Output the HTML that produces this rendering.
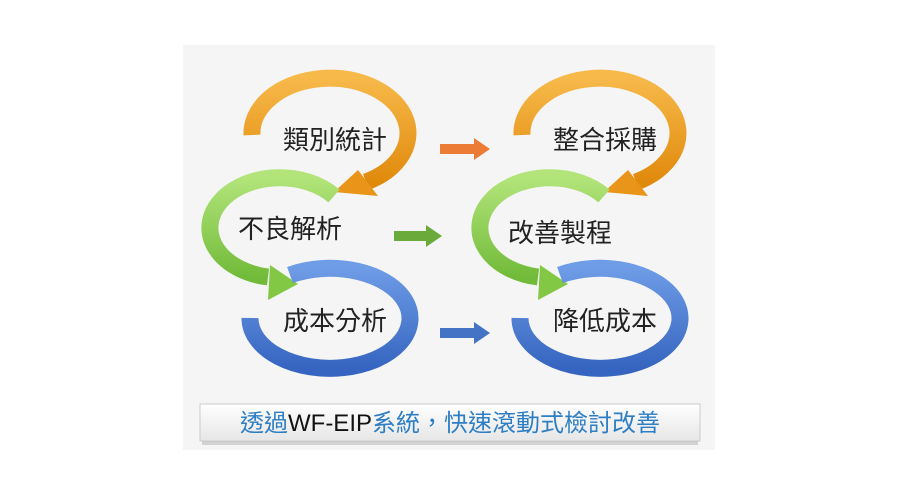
<!DOCTYPE html>
<html><head><meta charset="utf-8"><style>
body{margin:0;background:#fff;width:900px;height:494px;overflow:hidden}
</style></head><body>
<svg width="900" height="494" viewBox="0 0 900 494" xmlns="http://www.w3.org/2000/svg">
<defs>
<linearGradient id="og" x1="0" y1="0" x2="0" y2="1"><stop offset="0" stop-color="#f7b94a"/><stop offset="1" stop-color="#e08a0c"/></linearGradient>
<linearGradient id="gg" x1="0" y1="0" x2="0" y2="1"><stop offset="0" stop-color="#b2e47a"/><stop offset="1" stop-color="#72bb3a"/></linearGradient>
<linearGradient id="bg" x1="0" y1="0" x2="0" y2="1"><stop offset="0" stop-color="#6f9ce6"/><stop offset="1" stop-color="#3565c0"/></linearGradient>
<linearGradient id="ban" x1="0" y1="0" x2="0" y2="1"><stop offset="0" stop-color="#ffffff"/><stop offset="1" stop-color="#e6e6e6"/></linearGradient>
<g id="grp">
<path d="M252,135 A78,55 0 1 1 366,182" fill="none" stroke="url(#og)" stroke-width="17"/>
<polygon points="334,192 358,170 378,196" fill="#e8951a"/>
<path d="M334,196 A70,50 0 1 0 268,277" fill="none" stroke="url(#gg)" stroke-width="17"/>
<polygon points="298,284 270,265 268,300" fill="#82c845"/>
<path d="M290,275 A80,50 0 1 1 250,318" fill="none" stroke="url(#bg)" stroke-width="17"/>
</g>
</defs>
<rect x="183" y="45" width="532" height="405" fill="#f5f5f5"/>
<use href="#grp"/>
<use href="#grp" transform="translate(270,0)"/>
<g font-family="Liberation Sans,'Noto Sans CJK TC',sans-serif" font-size="26" fill="#222" text-anchor="middle">
<text x="335" y="149">類別統計</text>
<text x="290" y="238">不良解析</text>
<text x="335" y="330">成本分析</text>
<text x="605" y="149">整合採購</text>
<text x="560" y="242">改善製程</text>
<text x="605" y="330">降低成本</text>
</g>
<polygon points="440,144 474,144 474,138 490,149 474,160 474,154 440,154" fill="#ec7c35"/>
<polygon points="394,231 426,231 426,225 442,236 426,247 426,241 394,241" fill="#6aaa3a"/>
<polygon points="440,328 474,328 474,322 490,333 474,344 474,338 440,338" fill="#4472c4"/>
<rect x="200" y="404" width="500" height="37" fill="url(#ban)" stroke="#ccc"/>
<rect x="202" y="441" width="496" height="4" fill="#bbb" opacity="0.6"/>
<text x="450" y="431" text-anchor="middle" font-family="Liberation Sans,'Noto Sans CJK TC',sans-serif" font-size="24" fill="#2e7ec4">透過<tspan fill="#111">WF-EIP</tspan>系統，快速滾動式檢討改善</text>
</svg>
</body></html>
